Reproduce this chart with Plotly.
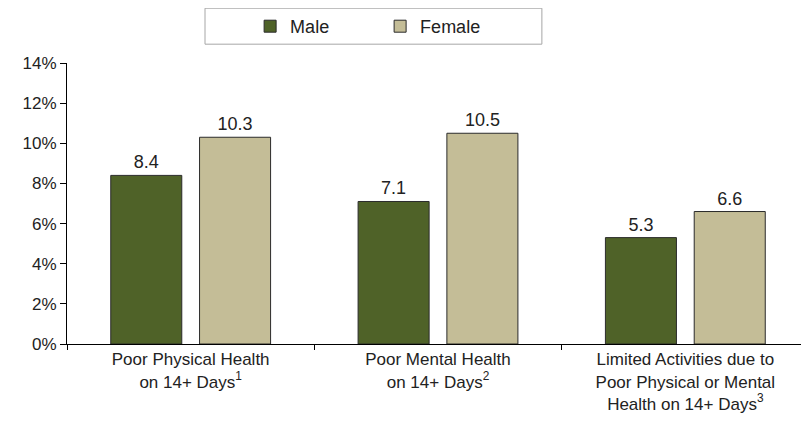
import plotly.graph_objects as go

# Chart data
categories = [
    "Poor Physical Health<br>on 14+ Days<sup>1</sup>",
    "Poor Mental Health<br>on 14+ Days<sup>2</sup>",
    "Limited Activities due to<br>Poor Physical or Mental<br>Health on 14+ Days<sup>3</sup>",
]
male = [8.4, 7.1, 5.3]
female = [10.3, 10.5, 6.6]
y_ticks = [0, 2, 4, 6, 8, 10, 12, 14]
y_tick_labels = [f"{v}%" for v in y_ticks]

MALE_COLOR = "#4F6228"
FEMALE_COLOR = "#C4BD97"
FONT = "Arial, Liberation Sans, sans-serif"

fig = go.Figure()

for name, vals, color in [("Male", male, MALE_COLOR), ("Female", female, FEMALE_COLOR)]:
    fig.add_trace(go.Bar(
        name=name,
        x=categories,
        y=vals,
        marker=dict(color=color, line=dict(color="#2b2b2b", width=1)),
        text=[f"{v:.1f}" for v in vals],
        textposition="outside",
        textfont=dict(size=18, color="#222222", family=FONT),
        cliponaxis=False,
    ))

# page body has an 8px margin, so the figure is sized/offset to land the
# plot area where the original one sits in the 809x422 window
fig.update_layout(
    width=801,
    height=414,
    barmode="group",
    bargap=0.282,
    bargroupgap=0.2,
    paper_bgcolor="white",
    plot_bgcolor="white",
    font=dict(family=FONT, size=17, color="#222222"),
    margin=dict(l=59, r=0, t=54, b=78),
    showlegend=True,
    legend=dict(
        orientation="h",
        x=0.422,
        xanchor="center",
        y=1.131,
        yanchor="middle",
        font=dict(size=18, family=FONT, color="#222222"),
        bgcolor="rgba(0,0,0,0)",
        entrywidth=85,
        itemwidth=30,
    ),
    shapes=[dict(
        type="rect", xref="paper", yref="paper",
        x0=0.186, x1=0.640, y0=1.067, y1=1.195,
        line=dict(color="#a6a6a6", width=1),
        fillcolor="rgba(0,0,0,0)",
    )],
)

fig.update_yaxes(
    range=[0, 14],
    tickvals=y_ticks,
    ticktext=y_tick_labels,
    showgrid=False,
    zeroline=False,
    showline=True,
    linecolor="black",
    linewidth=1,
    ticks="outside",
    ticklen=6,
    tickcolor="black",
    tickfont=dict(size=17, family=FONT),
    automargin=False,
)

fig.update_xaxes(
    showgrid=False,
    showline=True,
    linecolor="black",
    linewidth=1,
    ticks="outside",
    tickson="boundaries",
    ticklen=5,
    tickcolor="black",
    tickfont=dict(size=17, family=FONT),
    automargin=False,
)

fig.write_html("out.html")
